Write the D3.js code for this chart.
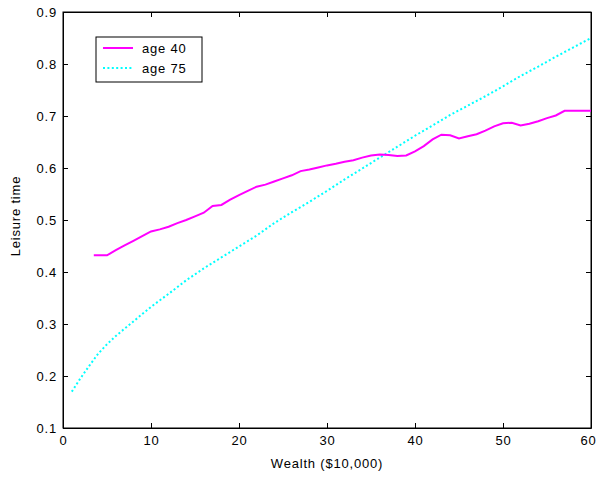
<!DOCTYPE html>
<html>
<head>
<meta charset="utf-8">
<script src="https://cdn.jsdelivr.net/npm/d3@7"></script>
<style>
  body { margin: 0; background: #fff; }
  text { font-family: "Liberation Sans", Arial, sans-serif; fill: #000; letter-spacing: 0.8px; }
  .axis path, .axis line { stroke: #000; }
</style>
</head>
<body>
<div class="chart"></div>
<script>

// Leisure time vs wealth
var wealth40 = [3.5, 5, 6, 7, 8, 9, 10, 11, 12, 13, 14, 15, 16, 17, 18, 19, 20,
    21, 22, 23, 24, 25, 26, 27, 28, 29, 30, 31, 32, 33, 34, 35, 36, 37, 38, 39, 40,
    41, 42, 43, 44, 45, 46, 47, 48, 49, 50, 51, 52, 53, 54, 55, 56, 57, 58, 59, 60];
var leisure40 = [0.432, 0.432, 0.442, 0.451, 0.46, 0.469, 0.478, 0.482, 0.487, 0.494, 0.5, 0.507, 0.514, 0.527, 0.529, 0.539, 0.548,
    0.556, 0.564, 0.568, 0.574, 0.58, 0.586, 0.594, 0.597, 0.601, 0.605, 0.608, 0.612, 0.615, 0.62, 0.624, 0.626, 0.625, 0.623, 0.624, 0.632,
    0.642, 0.655, 0.664, 0.663, 0.657, 0.661, 0.665, 0.672, 0.68, 0.686, 0.687, 0.682, 0.685, 0.69, 0.696, 0.701, 0.71, 0.71, 0.71, 0.71];

var wealth75 = [1, 2, 3, 4, 5, 6, 8, 10, 12, 14, 16, 18, 20, 22, 24, 26, 28, 30,
    32, 34, 36, 38, 40, 42, 44, 46, 48, 50, 52, 54, 56, 58, 60];
var leisure75 = [0.17, 0.196, 0.22, 0.243, 0.261, 0.277, 0.305, 0.333, 0.358, 0.384, 0.407, 0.428, 0.449, 0.47, 0.494, 0.515, 0.535, 0.556,
    0.578, 0.599, 0.62, 0.641, 0.662, 0.682, 0.702, 0.72, 0.738, 0.757, 0.777, 0.795, 0.814, 0.832, 0.85];

var xTicks = [0, 10, 20, 30, 40, 50, 60];
var yTicks = [0.1, 0.2, 0.3, 0.4, 0.5, 0.6, 0.7, 0.8, 0.9];
var seriesNames = ["age 40", "age 75"];

var margin = {top: 12, right: 7, bottom: 49, left: 63};
var width = 598 - margin.left - margin.right;
var height = 477 - margin.top - margin.bottom;

var svg = d3.select(".chart")
    .append("svg")
        .attr("width", 598)
        .attr("height", 477)
    .append("g")
        .attr("transform", "translate(" + margin.left + "," + margin.top + ")");

var x = d3.scaleLinear().domain([0, 60]).range([0, width]);
var y = d3.scaleLinear().domain([0.1, 0.9]).range([height, 0]);

// Axes, ticks pointing inward like the original
var xAxisG = svg.append("g")
    .attr("class", "axis")
    .attr("transform", "translate(0," + height + ")")
    .call(d3.axisBottom(x).tickValues(xTicks).tickSize(-5).tickSizeOuter(0).tickPadding(8));

xAxisG.selectAll("text")
    .style("font-size", "13px")
    .attr("dx", function(d) { return d === 60 ? -3 : 0; });

svg.append("g")
    .attr("class", "axis")
    .call(d3.axisLeft(y).tickValues(yTicks).tickFormat(d3.format(".1f")).tickSize(-5).tickSizeOuter(0).tickPadding(6))
    .selectAll("text").style("font-size", "13px");

svg.append("g")
    .attr("class", "axis")
    .call(d3.axisTop(x).tickValues(xTicks).tickSize(-5).tickSizeOuter(0).tickFormat(""));

svg.append("g")
    .attr("class", "axis")
    .attr("transform", "translate(" + width + ",0)")
    .call(d3.axisRight(y).tickValues(yTicks).tickSize(-5).tickSizeOuter(0).tickFormat(""));

svg.append("rect")
    .attr("width", width)
    .attr("height", height)
    .style("fill", "none")
    .style("stroke", "#000");

// Axis labels
svg.append("text")
    .attr("x", width / 2)
    .attr("y", height + 40)
    .attr("text-anchor", "middle")
    .style("font-size", "13px")
    .text("Wealth ($10,000)");

svg.append("text")
    .attr("transform", "rotate(-90)")
    .attr("x", -height / 2 + 4)
    .attr("y", -43)
    .attr("text-anchor", "middle")
    .style("font-size", "13px")
    .text("Leisure time");

// Lines
var line = d3.line()
    .x(function(d) { return x(d[0]); })
    .y(function(d) { return y(d[1]); });

svg.append("path")
    .datum(d3.zip(wealth75, leisure75))
    .attr("d", line)
    .style("fill", "none")
    .style("stroke", "#00ffff")
    .style("stroke-width", 2)
    .style("stroke-dasharray", "2,2.4");

svg.append("path")
    .datum(d3.zip(wealth40, leisure40))
    .attr("d", line)
    .style("fill", "none")
    .style("stroke", "#ff00ff")
    .style("stroke-width", 2);

// Legend
var legend = svg.append("g")
    .attr("transform", "translate(33,25)");

legend.append("rect")
    .attr("width", 106)
    .attr("height", 45)
    .style("fill", "#fff")
    .style("stroke", "#000");

var colors = ["#ff00ff", "#00ffff"];
var dashes = ["none", "2,2.4"];

seriesNames.forEach(function(name, i) {
    legend.append("line")
        .attr("x1", 7).attr("x2", 37)
        .attr("y1", 11 + i * 20).attr("y2", 11 + i * 20)
        .style("stroke", colors[i])
        .style("stroke-width", 2)
        .style("stroke-dasharray", dashes[i]);
    legend.append("text")
        .attr("x", 46)
        .attr("y", 16 + i * 20)
        .style("font-size", "13px")
        .text(name);
});

</script>
</body>
</html>
